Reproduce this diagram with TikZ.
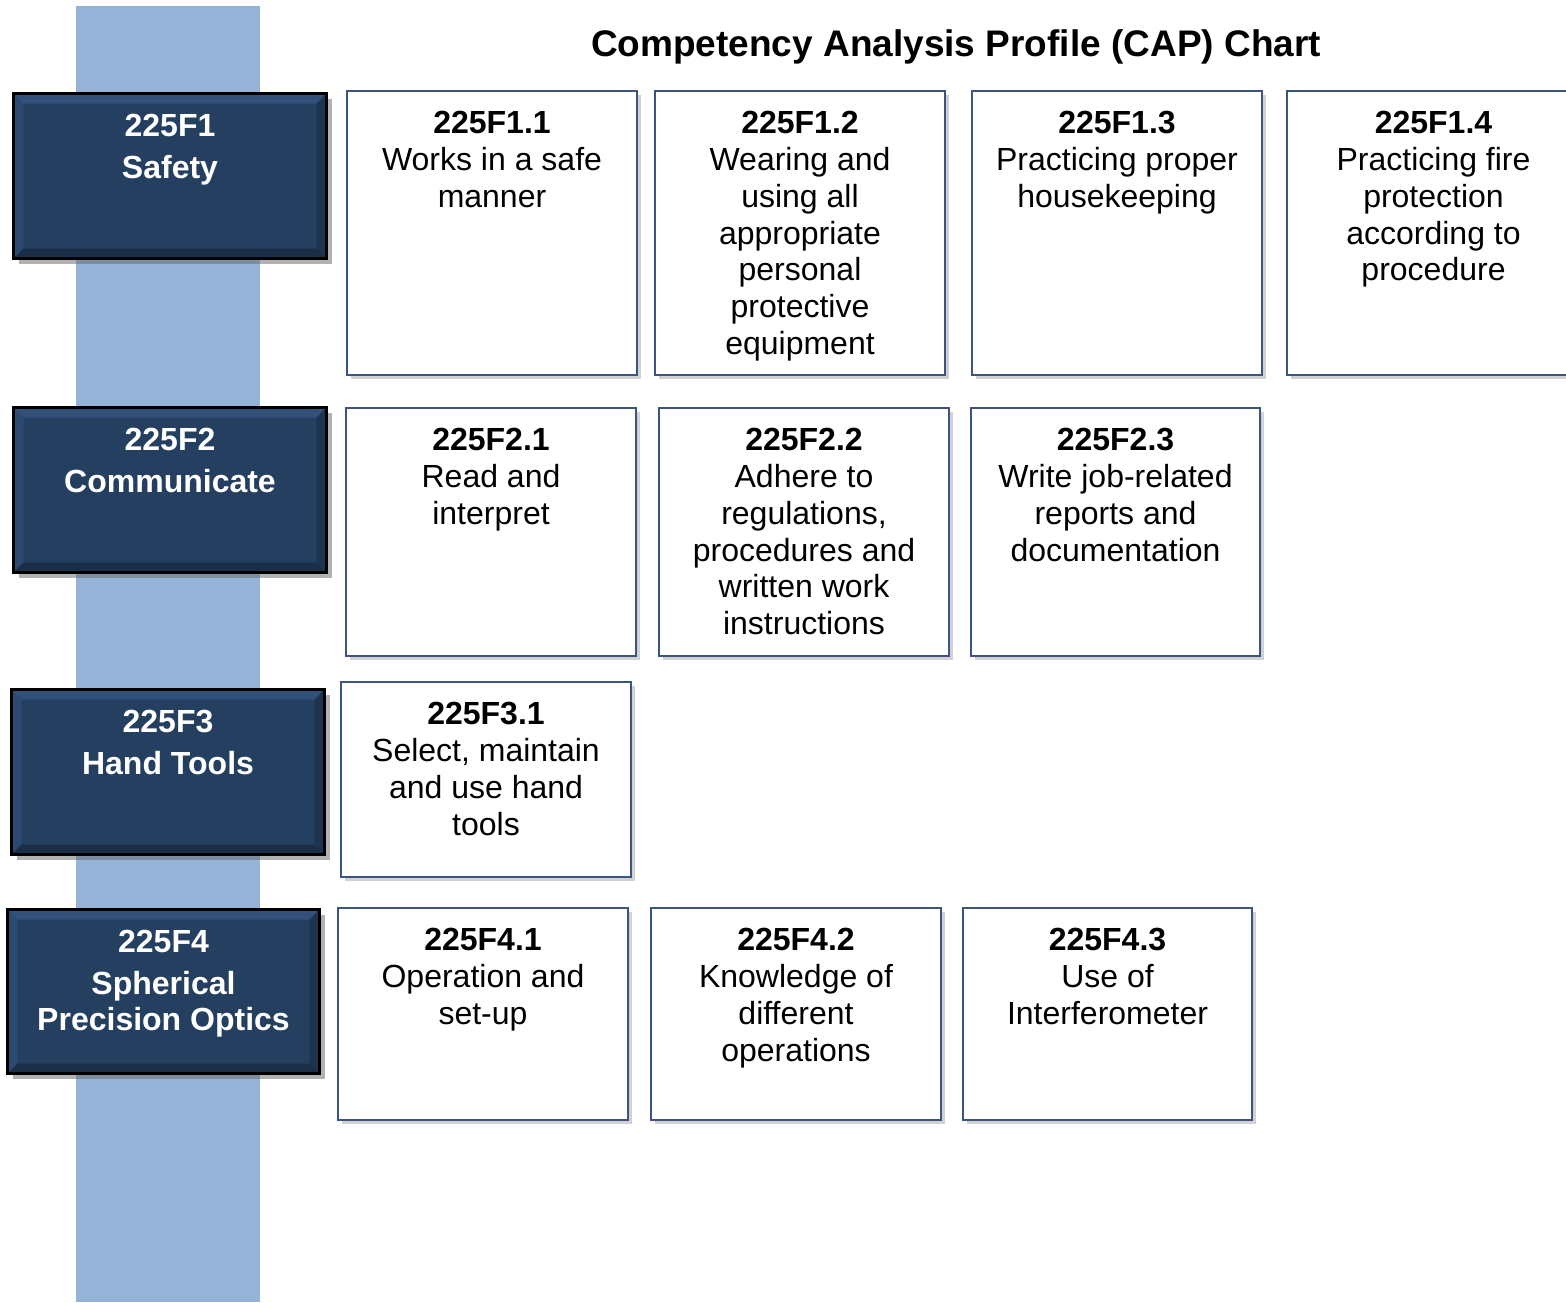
\documentclass[tikz,border=0pt]{standalone}
\usepackage{fontspec}
\setmainfont{Liberation Sans}
\usetikzlibrary{shadows,fit,calc}
\definecolor{band}{HTML}{95B3D7}
\definecolor{navy}{HTML}{243F60}
\definecolor{navyhi}{HTML}{31507A}
\definecolor{navylo}{HTML}{1A2E48}
\definecolor{boxline}{HTML}{3C5480}
\newcommand{\bevelbox}[1]{%
  \fill[navyhi] (#1.north west) -- (#1.north east) -- ($(#1.north east)+(-10,10)$) -- ($(#1.north west)+(10,10)$) -- cycle;
  \fill[navyhi!60!navy] (#1.north west) -- (#1.south west) -- ($(#1.south west)+(10,-10)$) -- ($(#1.north west)+(10,10)$) -- cycle;
  \fill[navylo] (#1.south west) -- (#1.south east) -- ($(#1.south east)+(-10,-10)$) -- ($(#1.south west)+(10,-10)$) -- cycle;
  \fill[navylo!70!navy] (#1.north east) -- (#1.south east) -- ($(#1.south east)+(-10,-10)$) -- ($(#1.north east)+(-10,10)$) -- cycle;
  \draw[black, line width=1.5pt] (#1.north west) rectangle (#1.south east);
}
\begin{document}
\begin{tikzpicture}[x=0.5pt,y=-0.5pt,
  catbox/.style={draw=black, line width=1.5pt, fill=navy, inner sep=0pt, outer sep=0pt,
    drop shadow={shadow xshift=2.5pt, shadow yshift=-2.5pt, fill=black!60, opacity=0.5}},
  compbox/.style={draw=boxline, line width=1pt, fill=white, inner sep=0pt, outer sep=0pt,
    drop shadow={shadow xshift=2pt, shadow yshift=-2pt, fill=black!45, opacity=0.4}},
  cattext/.style={text=white, font=\fontsize{16}{18.4}\selectfont\bfseries, align=center, inner sep=0pt, anchor=north},
  comptext/.style={text=black, font=\fontsize{16}{18.4}\selectfont, align=center, inner sep=0pt, anchor=north},
  titletext/.style={font=\fontsize{18.5}{22}\selectfont\bfseries, inner sep=0pt}
]
\useasboundingbox (0,0) rectangle (1566,1302);
\clip (0,0) rectangle (1566,1302);
\fill[band] (76,6) rectangle (260,1302);

\node[titletext] (title) at (956,47) {Competency Analysis Profile (CAP) Chart};

% category boxes
\node[catbox, fit={(13.5,93.5) (326.5,258.5)}] (f1) {};
\bevelbox{f1}
\node[cattext] (f1t) at ($(f1.north)+(0,20)$) {225F1\\[2.5pt]Safety};

\node[catbox, fit={(13.5,407.5) (326.5,572.5)}] (f2) {};
\bevelbox{f2}
\node[cattext] (f2t) at ($(f2.north)+(0,20)$) {225F2\\[2.5pt]Communicate};

\node[catbox, fit={(11.5,689.5) (324.5,854.5)}] (f3) {};
\bevelbox{f3}
\node[cattext] (f3t) at ($(f3.north)+(0,20)$) {225F3\\[2.5pt]Hand Tools};

\node[catbox, fit={(7.5,909.5) (319.5,1073.5)}] (f4) {};
\bevelbox{f4}
\node[cattext] (f4t) at ($(f4.north)+(0,20)$) {225F4\\[2.5pt]Spherical\\Precision Optics};

% row 1
\node[compbox, fit={(347,91) (637,375)}] (c11) {};
\node[comptext] (c11t) at ($(c11.north)+(0,20)$) {\textbf{225F1.1}\\Works in a safe\\manner};
\node[compbox, fit={(655,91) (945,375)}] (c12) {};
\node[comptext] (c12t) at ($(c12.north)+(0,20)$) {\textbf{225F1.2}\\Wearing and\\using all\\appropriate\\personal\\protective\\equipment};
\node[compbox, fit={(972,91) (1262,375)}] (c13) {};
\node[comptext] (c13t) at ($(c13.north)+(0,20)$) {\textbf{225F1.3}\\Practicing proper\\housekeeping};
\node[compbox, fit={(1287,91) (1580,375)}] (c14) {};
\node[comptext] (c14t) at ($(c14.north)+(0,20)$) {\textbf{225F1.4}\\Practicing fire\\protection\\according to\\procedure};

% row 2
\node[compbox, fit={(346,408) (636,656)}] (c21) {};
\node[comptext] (c21t) at ($(c21.north)+(0,20)$) {\textbf{225F2.1}\\Read and\\interpret};
\node[compbox, fit={(659,408) (949,656)}] (c22) {};
\node[comptext] (c22t) at ($(c22.north)+(0,20)$) {\textbf{225F2.2}\\Adhere to\\regulations,\\procedures and\\written work\\instructions};
\node[compbox, fit={(971,408) (1260,656)}] (c23) {};
\node[comptext] (c23t) at ($(c23.north)+(0,20)$) {\textbf{225F2.3}\\Write job-related\\reports and\\documentation};

% row 3
\node[compbox, fit={(341,682) (631,877)}] (c31) {};
\node[comptext] (c31t) at ($(c31.north)+(0,20)$) {\textbf{225F3.1}\\Select, maintain\\and use hand\\tools};

% row 4
\node[compbox, fit={(338,908) (628,1120)}] (c41) {};
\node[comptext] (c41t) at ($(c41.north)+(0,20)$) {\textbf{225F4.1}\\Operation and\\set-up};
\node[compbox, fit={(651,908) (941,1120)}] (c42) {};
\node[comptext] (c42t) at ($(c42.north)+(0,20)$) {\textbf{225F4.2}\\Knowledge of\\different\\operations};
\node[compbox, fit={(963,908) (1252,1120)}] (c43) {};
\node[comptext] (c43t) at ($(c43.north)+(0,20)$) {\textbf{225F4.3}\\Use of\\Interferometer};
\end{tikzpicture}
\end{document}
